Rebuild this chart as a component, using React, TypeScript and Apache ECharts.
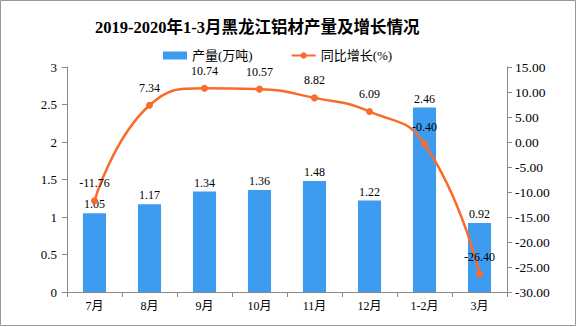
import React, { useEffect, useRef } from "react";
import * as echarts from "echarts";

const categories = ["7月", "8月", "9月", "10月", "11月", "12月", "1-2月", "3月"];
const output = [1.05, 1.17, 1.34, 1.36, 1.48, 1.22, 2.46, 0.92];
const growth = [-11.76, 7.34, 10.74, 10.57, 8.82, 6.09, -0.4, -26.4];

const FONT = "'Liberation Serif', 'Noto Sans CJK SC', serif";

export default function App() {
  const ref = useRef<HTMLDivElement>(null);
  useEffect(() => {
    document.body.style.margin = "0";
    const chart = echarts.init(ref.current!, null, { renderer: "svg" });
    chart.setOption({
      animation: false,
      backgroundColor: "#fff",
      title: {
        text: "2019-2020年1-3月黑龙江铝材产量及增长情况",
        left: 90,
        top: 14,
        textStyle: { fontSize: 16.5, fontWeight: "bold", color: "#000", fontFamily: FONT },
      },
      legend: {
        top: 44,
        left: 158,
        itemWidth: 24,
        itemHeight: 8,
        itemGap: 38,
        textStyle: { fontSize: 13, color: "#000", fontFamily: FONT },
        data: [
          { name: "产量(万吨)", icon: "rect" },
          { name: "同比增长(%)" },
        ],
      },
      graphic: [
        {
          type: "rect",
          shape: { x: 0.5, y: 0.5, width: 575, height: 325 },
          style: { fill: "none", stroke: "#999", lineWidth: 1 },
          silent: true,
        },
      ],
      grid: { left: 67, right: 69, top: 67, bottom: 35 },
      xAxis: {
        type: "category",
        data: categories,
        axisLine: { lineStyle: { color: "#888" } },
        axisTick: { show: true, alignWithLabel: false, lineStyle: { color: "#888" } },
        axisLabel: { color: "#000", fontSize: 12, fontFamily: FONT, margin: 8 },
      },
      yAxis: [
        {
          type: "value",
          min: 0,
          max: 3,
          interval: 0.5,
          splitLine: { show: false },
          axisLine: { show: true, lineStyle: { color: "#888" } },
          axisTick: { show: true, lineStyle: { color: "#888" } },
          axisLabel: { color: "#000", fontSize: 13, fontFamily: FONT, margin: 10 },
        },
        {
          type: "value",
          min: -30,
          max: 15,
          interval: 5,
          splitLine: { show: false },
          axisLine: { show: true, lineStyle: { color: "#888" } },
          axisTick: { show: true, lineStyle: { color: "#888" } },
          axisLabel: {
            color: "#000",
            fontSize: 13.5,
            fontFamily: FONT,
            margin: 8,
            formatter: (v: number) => v.toFixed(2),
          },
        },
      ],
      series: [
        {
          name: "产量(万吨)",
          type: "bar",
          data: output,
          barWidth: "42%",
          itemStyle: { color: "#3d9cf0" },
          label: {
            show: true,
            position: "top",
            color: "#000",
            fontSize: 12,
            fontFamily: FONT,
            distance: 3,
          },
        },
        {
          name: "同比增长(%)",
          type: "line",
          yAxisIndex: 1,
          data: growth,
          smooth: true,
          symbol: "circle",
          symbolSize: 7,
          lineStyle: { color: "#f96b2b", width: 2.5 },
          itemStyle: { color: "#f96b2b" },
          label: {
            show: true,
            position: "top",
            color: "#000",
            fontSize: 12,
            fontFamily: FONT,
            distance: 8,
            formatter: (p: any) => p.value.toFixed(2),
          },
        },
      ],
    });
    return () => chart.dispose();
  }, []);
  return <div ref={ref} style={{ width: 576, height: 327 }} />;
}
